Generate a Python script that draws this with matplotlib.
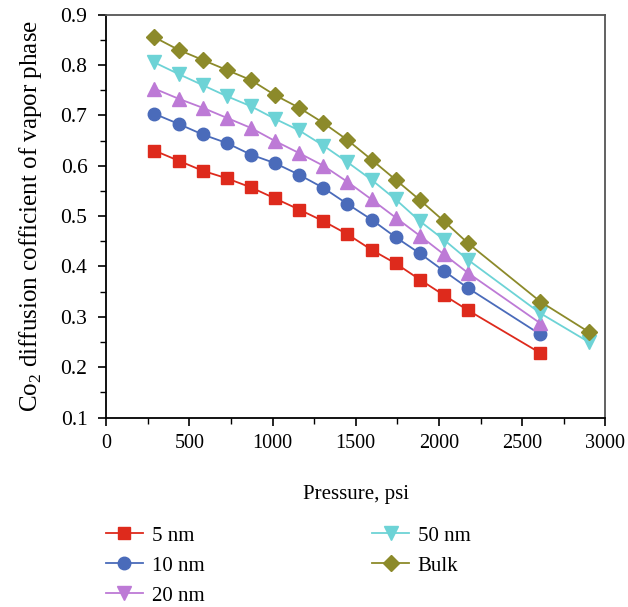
import matplotlib.pyplot as plt
from matplotlib.lines import Line2D
from matplotlib.ticker import MultipleLocator

plt.rcParams['font.family'] = ['Liberation Serif', 'DejaVu Serif']
plt.rcParams['mathtext.fontset'] = 'custom'
plt.rcParams['mathtext.rm'] = 'Liberation Serif'

# pressure, psi
pressure = [290, 435, 580, 725, 870, 1015, 1160, 1305, 1450, 1595, 1740, 1885, 2030, 2175, 2610, 2900]

d_5nm = [0.630, 0.610, 0.590, 0.575, 0.557, 0.535, 0.513, 0.490, 0.464, 0.433, 0.406, 0.374, 0.343, 0.313, 0.228]
d_10nm = [0.703, 0.683, 0.662, 0.645, 0.622, 0.605, 0.582, 0.556, 0.524, 0.493, 0.458, 0.426, 0.391, 0.357, 0.265]
d_20nm = [0.753, 0.733, 0.715, 0.695, 0.675, 0.649, 0.625, 0.600, 0.568, 0.533, 0.497, 0.461, 0.424, 0.387, 0.287]
d_50nm = [0.805, 0.782, 0.760, 0.738, 0.718, 0.693, 0.670, 0.640, 0.607, 0.572, 0.533, 0.490, 0.453, 0.413, 0.307, 0.250]
d_bulk = [0.855, 0.830, 0.810, 0.790, 0.770, 0.740, 0.715, 0.685, 0.651, 0.612, 0.572, 0.532, 0.490, 0.446, 0.330, 0.270]

labels = ['5 nm', '10 nm', '20 nm', '50 nm', 'Bulk']
series = [d_5nm, d_10nm, d_20nm, d_50nm, d_bulk]
colors = ['#de2a1c', '#4a6bba', '#bd7ad6', '#6dd3d6', '#8c8a2a']
markers = ['s', 'o', '^', 'v', 'D']
sizes = [8, 9, 10, 10, 8]
legend_markers = ['s', 'o', 'v', 'v', 'D']  # legend in the original shows 20 nm as a down triangle

fig = plt.figure(figsize=(6.28, 6.07), dpi=100)
ax = fig.add_axes([0.169, 0.312, 0.795, 0.664])

for vals, c, m, s in zip(series, colors, markers, sizes):
    ax.plot(pressure[:len(vals)], vals, color=c, marker=m, markersize=s, lw=1.3)

ax.set_xlim(0, 3000)
ax.set_ylim(0.1, 0.9)
ax.xaxis.set_major_locator(MultipleLocator(500))
ax.xaxis.set_minor_locator(MultipleLocator(250))
ax.yaxis.set_major_locator(MultipleLocator(0.1))
ax.yaxis.set_minor_locator(MultipleLocator(0.05))
ax.yaxis.set_major_formatter(plt.FuncFormatter(lambda v, p: f'{v:.1f}'))
ax.tick_params(which='major', direction='out', length=6, width=1.2, labelsize=14.5)
ax.tick_params(axis='x', which='major', pad=6)
ax.tick_params(axis='y', which='major', pad=7.5, labelsize=15.5)
ax.tick_params(which='minor', direction='out', length=4, width=1.0)
ax.tick_params(top=False, right=False)
for sp in ax.spines.values():
    sp.set_linewidth(1.3)
for sp in ['top', 'right']:
    ax.spines[sp].set_color('#555555')

ax.set_xlabel('Pressure, psi', fontsize=15, labelpad=23)
ax.set_ylabel(r'Co$_2$ diffusion cofficient of vapor phase', fontsize=18, labelpad=12)

handles = [Line2D([], [], color=c, marker=m, markersize=s, lw=1.3)
           for c, m, s in zip(colors, legend_markers, sizes)]
fig.legend(handles, labels, loc='upper left', bbox_to_anchor=(0.155, 0.147), ncol=2,
           frameon=False, fontsize=15, handlelength=1.8, columnspacing=8.05,
           labelspacing=0.5, handletextpad=0.4, borderaxespad=0)

fig.savefig('out.png', dpi=100)
